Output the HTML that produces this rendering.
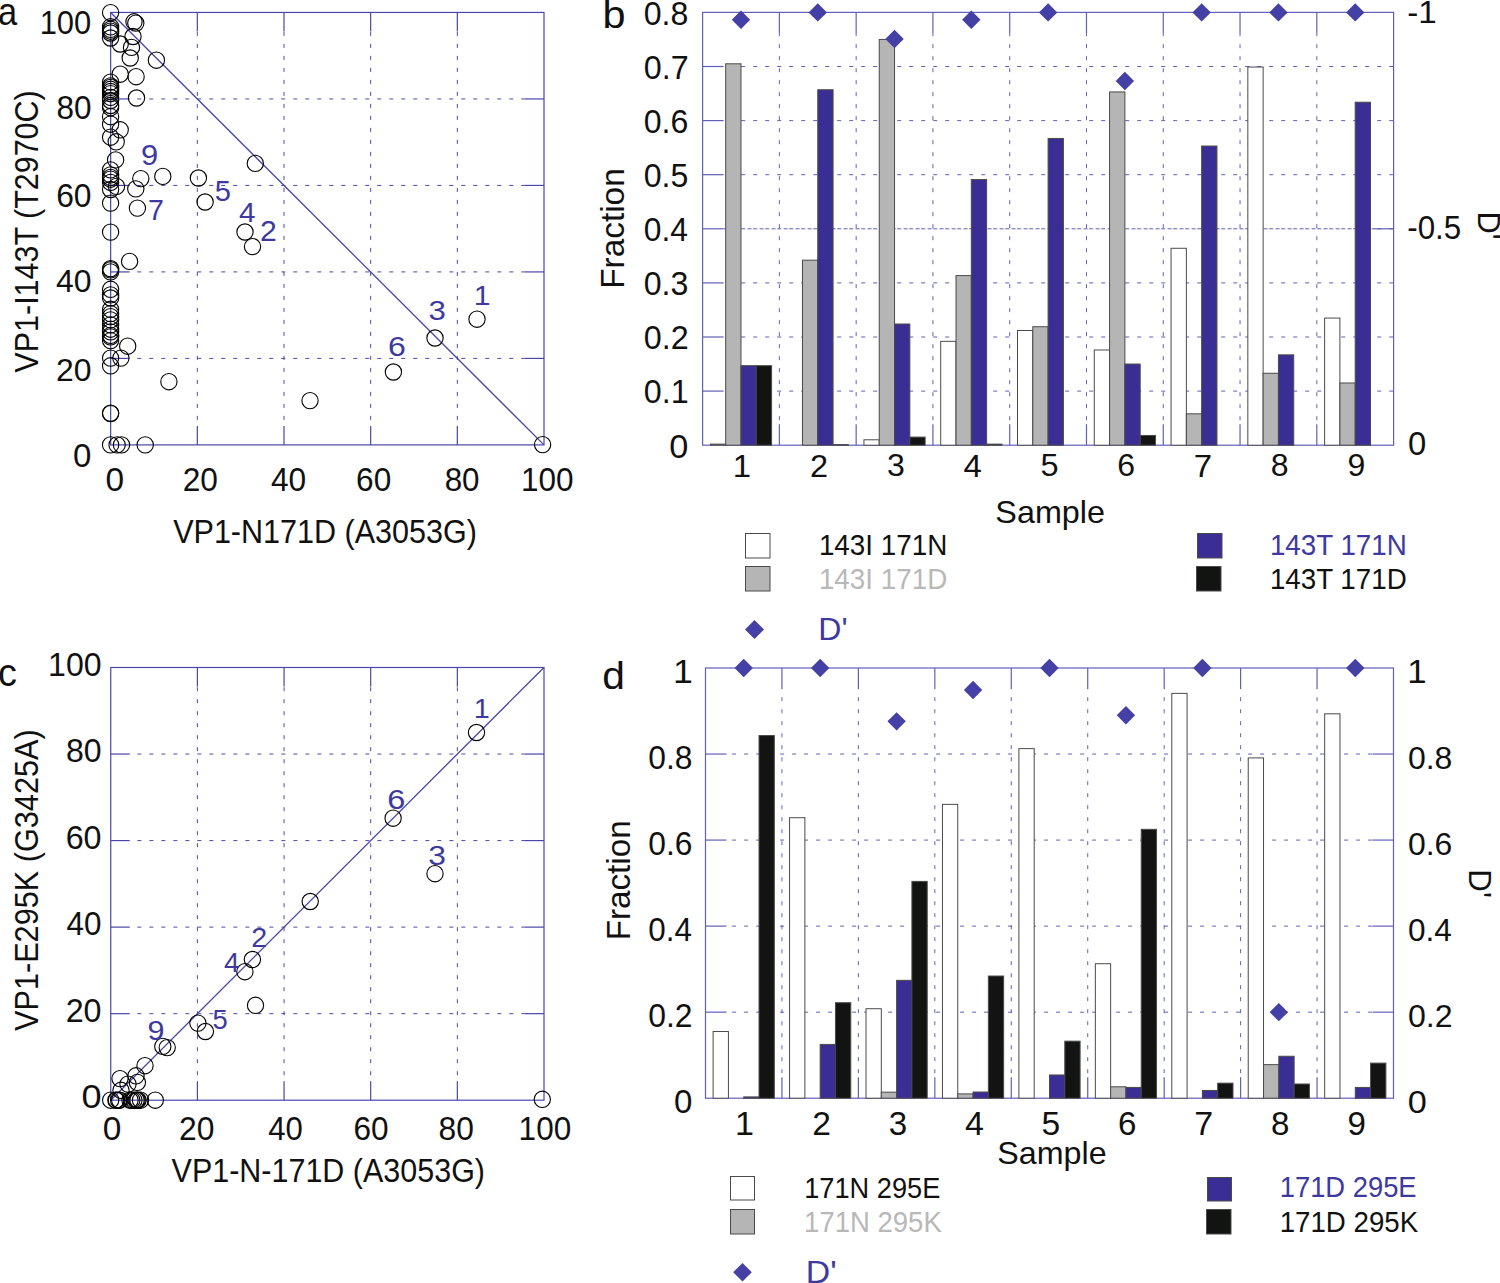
<!DOCTYPE html>
<html><head><meta charset="utf-8"><style>
html,body{margin:0;padding:0;background:#fff;}
svg{display:block;}
text{font-family:"Liberation Sans", sans-serif;}
</style></head><body>
<svg width="1500" height="1283" viewBox="0 0 1500 1283">
<rect width="1500" height="1283" fill="#fff"/>
<line x1="197.32" y1="425.9" x2="197.32" y2="31.45" stroke="#4c48ac" stroke-width="1" stroke-dasharray="4 8" stroke-dashoffset="18"/>
<line x1="197.32" y1="444.9" x2="197.32" y2="425.9" stroke="#4a46aa" stroke-width="1.2"/>
<line x1="197.32" y1="12.45" x2="197.32" y2="31.45" stroke="#4a46aa" stroke-width="1.2"/>
<line x1="129.65" y1="358.41" x2="525" y2="358.41" stroke="#4c48ac" stroke-width="1" stroke-dasharray="4 8" stroke-dashoffset="28.4"/>
<line x1="110.65" y1="358.41" x2="129.65" y2="358.41" stroke="#4a46aa" stroke-width="1.2"/>
<line x1="525" y1="358.41" x2="544" y2="358.41" stroke="#4a46aa" stroke-width="1.2"/>
<line x1="283.99" y1="425.9" x2="283.99" y2="31.45" stroke="#4c48ac" stroke-width="1" stroke-dasharray="4 8" stroke-dashoffset="18"/>
<line x1="283.99" y1="444.9" x2="283.99" y2="425.9" stroke="#4a46aa" stroke-width="1.2"/>
<line x1="283.99" y1="12.45" x2="283.99" y2="31.45" stroke="#4a46aa" stroke-width="1.2"/>
<line x1="129.65" y1="271.92" x2="525" y2="271.92" stroke="#4c48ac" stroke-width="1" stroke-dasharray="4 8" stroke-dashoffset="28.4"/>
<line x1="110.65" y1="271.92" x2="129.65" y2="271.92" stroke="#4a46aa" stroke-width="1.2"/>
<line x1="525" y1="271.92" x2="544" y2="271.92" stroke="#4a46aa" stroke-width="1.2"/>
<line x1="370.66" y1="425.9" x2="370.66" y2="31.45" stroke="#4c48ac" stroke-width="1" stroke-dasharray="4 8" stroke-dashoffset="18"/>
<line x1="370.66" y1="444.9" x2="370.66" y2="425.9" stroke="#4a46aa" stroke-width="1.2"/>
<line x1="370.66" y1="12.45" x2="370.66" y2="31.45" stroke="#4a46aa" stroke-width="1.2"/>
<line x1="129.65" y1="185.43" x2="525" y2="185.43" stroke="#4c48ac" stroke-width="1" stroke-dasharray="4 8" stroke-dashoffset="28.4"/>
<line x1="110.65" y1="185.43" x2="129.65" y2="185.43" stroke="#4a46aa" stroke-width="1.2"/>
<line x1="525" y1="185.43" x2="544" y2="185.43" stroke="#4a46aa" stroke-width="1.2"/>
<line x1="457.33" y1="425.9" x2="457.33" y2="31.45" stroke="#4c48ac" stroke-width="1" stroke-dasharray="4 8" stroke-dashoffset="18"/>
<line x1="457.33" y1="444.9" x2="457.33" y2="425.9" stroke="#4a46aa" stroke-width="1.2"/>
<line x1="457.33" y1="12.45" x2="457.33" y2="31.45" stroke="#4a46aa" stroke-width="1.2"/>
<line x1="129.65" y1="98.94" x2="525" y2="98.94" stroke="#4c48ac" stroke-width="1" stroke-dasharray="4 8" stroke-dashoffset="28.4"/>
<line x1="110.65" y1="98.94" x2="129.65" y2="98.94" stroke="#4a46aa" stroke-width="1.2"/>
<line x1="525" y1="98.94" x2="544" y2="98.94" stroke="#4a46aa" stroke-width="1.2"/>
<rect x="110.65" y="12.45" width="433.35" height="432.45" fill="none" stroke="#4a46aa" stroke-width="1.2"/>
<line x1="110.65" y1="12.45" x2="544" y2="444.9" stroke="#4a46aa" stroke-width="1.3"/>
<circle cx="110.6" cy="12.6" r="8.15" fill="none" stroke="#000" stroke-width="1.1"/>
<circle cx="110.6" cy="26.8" r="8.15" fill="none" stroke="#000" stroke-width="1.1"/>
<circle cx="110.6" cy="29.3" r="8.15" fill="none" stroke="#000" stroke-width="1.1"/>
<circle cx="110.6" cy="31.2" r="8.15" fill="none" stroke="#000" stroke-width="1.1"/>
<circle cx="110.6" cy="33" r="8.15" fill="none" stroke="#000" stroke-width="1.1"/>
<circle cx="110.6" cy="38" r="8.15" fill="none" stroke="#000" stroke-width="1.1"/>
<circle cx="110.6" cy="82.1" r="8.15" fill="none" stroke="#000" stroke-width="1.1"/>
<circle cx="110.6" cy="85.9" r="8.15" fill="none" stroke="#000" stroke-width="1.1"/>
<circle cx="110.6" cy="87.4" r="8.15" fill="none" stroke="#000" stroke-width="1.1"/>
<circle cx="110.6" cy="89.3" r="8.15" fill="none" stroke="#000" stroke-width="1.1"/>
<circle cx="110.6" cy="91.5" r="8.15" fill="none" stroke="#000" stroke-width="1.1"/>
<circle cx="110.6" cy="93.7" r="8.15" fill="none" stroke="#000" stroke-width="1.1"/>
<circle cx="110.6" cy="97.4" r="8.15" fill="none" stroke="#000" stroke-width="1.1"/>
<circle cx="110.6" cy="100.5" r="8.15" fill="none" stroke="#000" stroke-width="1.1"/>
<circle cx="110.6" cy="105.5" r="8.15" fill="none" stroke="#000" stroke-width="1.1"/>
<circle cx="110.6" cy="107.7" r="8.15" fill="none" stroke="#000" stroke-width="1.1"/>
<circle cx="110.6" cy="116.7" r="8.15" fill="none" stroke="#000" stroke-width="1.1"/>
<circle cx="110.6" cy="124.2" r="8.15" fill="none" stroke="#000" stroke-width="1.1"/>
<circle cx="110.6" cy="137.2" r="8.15" fill="none" stroke="#000" stroke-width="1.1"/>
<circle cx="110.6" cy="169.9" r="8.15" fill="none" stroke="#000" stroke-width="1.1"/>
<circle cx="110.6" cy="174.9" r="8.15" fill="none" stroke="#000" stroke-width="1.1"/>
<circle cx="110.6" cy="177.4" r="8.15" fill="none" stroke="#000" stroke-width="1.1"/>
<circle cx="110.6" cy="179.2" r="8.15" fill="none" stroke="#000" stroke-width="1.1"/>
<circle cx="110.6" cy="182.4" r="8.15" fill="none" stroke="#000" stroke-width="1.1"/>
<circle cx="110.6" cy="189.5" r="8.15" fill="none" stroke="#000" stroke-width="1.1"/>
<circle cx="110.6" cy="203.1" r="8.15" fill="none" stroke="#000" stroke-width="1.1"/>
<circle cx="110.6" cy="232.1" r="8.15" fill="none" stroke="#000" stroke-width="1.1"/>
<circle cx="110.6" cy="268.6" r="8.15" fill="none" stroke="#000" stroke-width="1.1"/>
<circle cx="110.6" cy="269.8" r="8.15" fill="none" stroke="#000" stroke-width="1.1"/>
<circle cx="110.6" cy="271.9" r="8.15" fill="none" stroke="#000" stroke-width="1.1"/>
<circle cx="110.6" cy="289.3" r="8.15" fill="none" stroke="#000" stroke-width="1.1"/>
<circle cx="110.6" cy="294.9" r="8.15" fill="none" stroke="#000" stroke-width="1.1"/>
<circle cx="110.6" cy="298" r="8.15" fill="none" stroke="#000" stroke-width="1.1"/>
<circle cx="110.6" cy="309.3" r="8.15" fill="none" stroke="#000" stroke-width="1.1"/>
<circle cx="110.6" cy="313.6" r="8.15" fill="none" stroke="#000" stroke-width="1.1"/>
<circle cx="110.6" cy="316.7" r="8.15" fill="none" stroke="#000" stroke-width="1.1"/>
<circle cx="110.6" cy="319.9" r="8.15" fill="none" stroke="#000" stroke-width="1.1"/>
<circle cx="110.6" cy="324.9" r="8.15" fill="none" stroke="#000" stroke-width="1.1"/>
<circle cx="110.6" cy="329.2" r="8.15" fill="none" stroke="#000" stroke-width="1.1"/>
<circle cx="110.6" cy="331.9" r="8.15" fill="none" stroke="#000" stroke-width="1.1"/>
<circle cx="110.6" cy="335.4" r="8.15" fill="none" stroke="#000" stroke-width="1.1"/>
<circle cx="110.6" cy="336.9" r="8.15" fill="none" stroke="#000" stroke-width="1.1"/>
<circle cx="110.6" cy="340.6" r="8.15" fill="none" stroke="#000" stroke-width="1.1"/>
<circle cx="110.6" cy="358.1" r="8.15" fill="none" stroke="#000" stroke-width="1.1"/>
<circle cx="110.6" cy="365.8" r="8.15" fill="none" stroke="#000" stroke-width="1.1"/>
<circle cx="110.6" cy="413.1" r="8.15" fill="none" stroke="#000" stroke-width="1.1"/>
<circle cx="110.6" cy="413.6" r="8.15" fill="none" stroke="#000" stroke-width="1.1"/>
<circle cx="110.6" cy="444.9" r="8.15" fill="none" stroke="#000" stroke-width="1.1"/>
<circle cx="120.2" cy="44" r="8.15" fill="none" stroke="#000" stroke-width="1.1"/>
<circle cx="134" cy="21.8" r="8.15" fill="none" stroke="#000" stroke-width="1.1"/>
<circle cx="135.8" cy="23.1" r="8.15" fill="none" stroke="#000" stroke-width="1.1"/>
<circle cx="133" cy="36.5" r="8.15" fill="none" stroke="#000" stroke-width="1.1"/>
<circle cx="131.5" cy="47.4" r="8.15" fill="none" stroke="#000" stroke-width="1.1"/>
<circle cx="130.2" cy="58" r="8.15" fill="none" stroke="#000" stroke-width="1.1"/>
<circle cx="156.4" cy="60.2" r="8.15" fill="none" stroke="#000" stroke-width="1.1"/>
<circle cx="120.2" cy="74.2" r="8.15" fill="none" stroke="#000" stroke-width="1.1"/>
<circle cx="136.1" cy="76.7" r="8.15" fill="none" stroke="#000" stroke-width="1.1"/>
<circle cx="136.5" cy="98" r="8.15" fill="none" stroke="#000" stroke-width="1.1"/>
<circle cx="120.2" cy="129.8" r="8.15" fill="none" stroke="#000" stroke-width="1.1"/>
<circle cx="116.2" cy="141.8" r="8.15" fill="none" stroke="#000" stroke-width="1.1"/>
<circle cx="115.6" cy="159.9" r="8.15" fill="none" stroke="#000" stroke-width="1.1"/>
<circle cx="116.5" cy="186.4" r="8.15" fill="none" stroke="#000" stroke-width="1.1"/>
<circle cx="140.8" cy="178.6" r="8.15" fill="none" stroke="#000" stroke-width="1.1"/>
<circle cx="135.8" cy="188.9" r="8.15" fill="none" stroke="#000" stroke-width="1.1"/>
<circle cx="162.8" cy="176.4" r="8.15" fill="none" stroke="#000" stroke-width="1.1"/>
<circle cx="137.4" cy="208.1" r="8.15" fill="none" stroke="#000" stroke-width="1.1"/>
<circle cx="198.4" cy="178" r="8.15" fill="none" stroke="#000" stroke-width="1.1"/>
<circle cx="205.1" cy="202" r="8.15" fill="none" stroke="#000" stroke-width="1.1"/>
<circle cx="255.3" cy="163.4" r="8.15" fill="none" stroke="#000" stroke-width="1.1"/>
<circle cx="245" cy="232" r="8.15" fill="none" stroke="#000" stroke-width="1.1"/>
<circle cx="252.5" cy="246.6" r="8.15" fill="none" stroke="#000" stroke-width="1.1"/>
<circle cx="129.6" cy="261.4" r="8.15" fill="none" stroke="#000" stroke-width="1.1"/>
<circle cx="127.7" cy="346.2" r="8.15" fill="none" stroke="#000" stroke-width="1.1"/>
<circle cx="120.9" cy="358.1" r="8.15" fill="none" stroke="#000" stroke-width="1.1"/>
<circle cx="168.9" cy="381.7" r="8.15" fill="none" stroke="#000" stroke-width="1.1"/>
<circle cx="117.1" cy="444.9" r="8.15" fill="none" stroke="#000" stroke-width="1.1"/>
<circle cx="121.5" cy="444.9" r="8.15" fill="none" stroke="#000" stroke-width="1.1"/>
<circle cx="145.2" cy="444.9" r="8.15" fill="none" stroke="#000" stroke-width="1.1"/>
<circle cx="310" cy="400.6" r="8.15" fill="none" stroke="#000" stroke-width="1.1"/>
<circle cx="393.4" cy="372" r="8.15" fill="none" stroke="#000" stroke-width="1.1"/>
<circle cx="435" cy="338" r="8.15" fill="none" stroke="#000" stroke-width="1.1"/>
<circle cx="477" cy="319.2" r="8.15" fill="none" stroke="#000" stroke-width="1.1"/>
<circle cx="542.6" cy="444.6" r="8.15" fill="none" stroke="#000" stroke-width="1.1"/>
<text transform="translate(141.05 165.02) scale(1.0797 1)" font-size="28.67" fill="#3d399f">9</text>
<text transform="translate(147.93 219.8) scale(0.9837 1)" font-size="29.07" fill="#3d399f">7</text>
<text transform="translate(214.83 201.41) scale(0.9811 1)" font-size="29.67" fill="#3d399f">5</text>
<text transform="translate(239.12 222.3) scale(1.0879 1)" font-size="27.18" fill="#3d399f">4</text>
<text transform="translate(260.09 241) scale(1.0499 1)" font-size="28.64" fill="#3d399f">2</text>
<text transform="translate(387.97 356.13) scale(1.1706 1)" font-size="27.4" fill="#3d399f">6</text>
<text transform="translate(428.41 320.12) scale(1.1050 1)" font-size="28.25" fill="#3d399f">3</text>
<text transform="translate(473.7 305) scale(1.0693 1)" font-size="28.2" fill="#3d399f">1</text>
<text transform="translate(39.65 33.88) scale(0.9431 1)" font-size="32.77" fill="#111111">100</text>
<text transform="translate(56.43 119.38) scale(0.9602 1)" font-size="32.77" fill="#111111">80</text>
<text transform="translate(56.19 207.48) scale(0.9742 1)" font-size="32.63" fill="#111111">60</text>
<text transform="translate(56.07 292.49) scale(0.9905 1)" font-size="32.2" fill="#111111">40</text>
<text transform="translate(56 380.89) scale(0.9896 1)" font-size="32.2" fill="#111111">20</text>
<text transform="translate(73.11 466.88) scale(1.0219 1)" font-size="32.34" fill="#111111">0</text>
<text transform="translate(105.39 490.98) scale(1.0171 1)" font-size="32.91" fill="#111111">0</text>
<text transform="translate(182.71 490.98) scale(0.9624 1)" font-size="32.91" fill="#111111">20</text>
<text transform="translate(270.97 490.98) scale(0.9634 1)" font-size="32.91" fill="#111111">40</text>
<text transform="translate(356.1 490.98) scale(0.9599 1)" font-size="32.91" fill="#111111">60</text>
<text transform="translate(444.64 490.98) scale(0.9531 1)" font-size="32.91" fill="#111111">80</text>
<text transform="translate(520.9 490.98) scale(0.9586 1)" font-size="32.91" fill="#111111">100</text>
<text transform="translate(173.17 543.3) scale(0.9014 1)" font-size="33.87" fill="#111111">VP1-N171D (A3053G)</text>
<text transform="translate(37.7 372.63) rotate(-90) scale(0.9262 1)" font-size="32.92" fill="#111111">VP1-I143T (T2970C)</text>
<text transform="translate(-2.06 24.53) scale(0.9076 1)" font-size="37.97" fill="#111111">a</text>
<line x1="197.4" y1="1081.2" x2="197.4" y2="686.5" stroke="#4c48ac" stroke-width="1" stroke-dasharray="4 8" stroke-dashoffset="18"/>
<line x1="197.4" y1="1100.2" x2="197.4" y2="1081.2" stroke="#4a46aa" stroke-width="1.2"/>
<line x1="197.4" y1="667.5" x2="197.4" y2="686.5" stroke="#4a46aa" stroke-width="1.2"/>
<line x1="129.75" y1="1013.66" x2="525" y2="1013.66" stroke="#4c48ac" stroke-width="1" stroke-dasharray="4 8" stroke-dashoffset="28.4"/>
<line x1="110.75" y1="1013.66" x2="129.75" y2="1013.66" stroke="#4a46aa" stroke-width="1.2"/>
<line x1="525" y1="1013.66" x2="544" y2="1013.66" stroke="#4a46aa" stroke-width="1.2"/>
<line x1="284.05" y1="1081.2" x2="284.05" y2="686.5" stroke="#4c48ac" stroke-width="1" stroke-dasharray="4 8" stroke-dashoffset="18"/>
<line x1="284.05" y1="1100.2" x2="284.05" y2="1081.2" stroke="#4a46aa" stroke-width="1.2"/>
<line x1="284.05" y1="667.5" x2="284.05" y2="686.5" stroke="#4a46aa" stroke-width="1.2"/>
<line x1="129.75" y1="927.12" x2="525" y2="927.12" stroke="#4c48ac" stroke-width="1" stroke-dasharray="4 8" stroke-dashoffset="28.4"/>
<line x1="110.75" y1="927.12" x2="129.75" y2="927.12" stroke="#4a46aa" stroke-width="1.2"/>
<line x1="525" y1="927.12" x2="544" y2="927.12" stroke="#4a46aa" stroke-width="1.2"/>
<line x1="370.7" y1="1081.2" x2="370.7" y2="686.5" stroke="#4c48ac" stroke-width="1" stroke-dasharray="4 8" stroke-dashoffset="18"/>
<line x1="370.7" y1="1100.2" x2="370.7" y2="1081.2" stroke="#4a46aa" stroke-width="1.2"/>
<line x1="370.7" y1="667.5" x2="370.7" y2="686.5" stroke="#4a46aa" stroke-width="1.2"/>
<line x1="129.75" y1="840.58" x2="525" y2="840.58" stroke="#4c48ac" stroke-width="1" stroke-dasharray="4 8" stroke-dashoffset="28.4"/>
<line x1="110.75" y1="840.58" x2="129.75" y2="840.58" stroke="#4a46aa" stroke-width="1.2"/>
<line x1="525" y1="840.58" x2="544" y2="840.58" stroke="#4a46aa" stroke-width="1.2"/>
<line x1="457.35" y1="1081.2" x2="457.35" y2="686.5" stroke="#4c48ac" stroke-width="1" stroke-dasharray="4 8" stroke-dashoffset="18"/>
<line x1="457.35" y1="1100.2" x2="457.35" y2="1081.2" stroke="#4a46aa" stroke-width="1.2"/>
<line x1="457.35" y1="667.5" x2="457.35" y2="686.5" stroke="#4a46aa" stroke-width="1.2"/>
<line x1="129.75" y1="754.04" x2="525" y2="754.04" stroke="#4c48ac" stroke-width="1" stroke-dasharray="4 8" stroke-dashoffset="28.4"/>
<line x1="110.75" y1="754.04" x2="129.75" y2="754.04" stroke="#4a46aa" stroke-width="1.2"/>
<line x1="525" y1="754.04" x2="544" y2="754.04" stroke="#4a46aa" stroke-width="1.2"/>
<rect x="110.75" y="667.5" width="433.25" height="432.7" fill="none" stroke="#4a46aa" stroke-width="1.2"/>
<line x1="110.75" y1="1100.2" x2="544" y2="667.5" stroke="#4a46aa" stroke-width="1.3"/>
<circle cx="310.2" cy="901.5" r="8.15" fill="none" stroke="#000" stroke-width="1.1"/>
<circle cx="252.4" cy="959.5" r="8.15" fill="none" stroke="#000" stroke-width="1.1"/>
<circle cx="244.9" cy="971.7" r="8.15" fill="none" stroke="#000" stroke-width="1.1"/>
<circle cx="255.5" cy="1005.3" r="8.15" fill="none" stroke="#000" stroke-width="1.1"/>
<circle cx="197.9" cy="1023.1" r="8.15" fill="none" stroke="#000" stroke-width="1.1"/>
<circle cx="205.4" cy="1031.5" r="8.15" fill="none" stroke="#000" stroke-width="1.1"/>
<circle cx="162.8" cy="1046.4" r="8.15" fill="none" stroke="#000" stroke-width="1.1"/>
<circle cx="167.2" cy="1047.6" r="8.15" fill="none" stroke="#000" stroke-width="1.1"/>
<circle cx="145" cy="1065.7" r="8.15" fill="none" stroke="#000" stroke-width="1.1"/>
<circle cx="136" cy="1075.8" r="8.15" fill="none" stroke="#000" stroke-width="1.1"/>
<circle cx="120" cy="1078.6" r="8.15" fill="none" stroke="#000" stroke-width="1.1"/>
<circle cx="128" cy="1084.1" r="8.15" fill="none" stroke="#000" stroke-width="1.1"/>
<circle cx="137.4" cy="1082.4" r="8.15" fill="none" stroke="#000" stroke-width="1.1"/>
<circle cx="121" cy="1090.3" r="8.15" fill="none" stroke="#000" stroke-width="1.1"/>
<circle cx="393.1" cy="818.2" r="8.15" fill="none" stroke="#000" stroke-width="1.1"/>
<circle cx="435" cy="873.7" r="8.15" fill="none" stroke="#000" stroke-width="1.1"/>
<circle cx="476.5" cy="732.5" r="8.15" fill="none" stroke="#000" stroke-width="1.1"/>
<circle cx="542.3" cy="1099.3" r="8.15" fill="none" stroke="#000" stroke-width="1.1"/>
<circle cx="110.7" cy="1100.2" r="8.15" fill="none" stroke="#000" stroke-width="1.1"/>
<circle cx="115.9" cy="1100.2" r="8.15" fill="none" stroke="#000" stroke-width="1.1"/>
<circle cx="116.4" cy="1100.2" r="8.15" fill="none" stroke="#000" stroke-width="1.1"/>
<circle cx="118.6" cy="1100.2" r="8.15" fill="none" stroke="#000" stroke-width="1.1"/>
<circle cx="119.7" cy="1100.2" r="8.15" fill="none" stroke="#000" stroke-width="1.1"/>
<circle cx="130" cy="1100.2" r="8.15" fill="none" stroke="#000" stroke-width="1.1"/>
<circle cx="131.8" cy="1100.2" r="8.15" fill="none" stroke="#000" stroke-width="1.1"/>
<circle cx="133.9" cy="1100.2" r="8.15" fill="none" stroke="#000" stroke-width="1.1"/>
<circle cx="136.1" cy="1100.2" r="8.15" fill="none" stroke="#000" stroke-width="1.1"/>
<circle cx="137.1" cy="1100.2" r="8.15" fill="none" stroke="#000" stroke-width="1.1"/>
<circle cx="138" cy="1100.2" r="8.15" fill="none" stroke="#000" stroke-width="1.1"/>
<circle cx="140.5" cy="1100.2" r="8.15" fill="none" stroke="#000" stroke-width="1.1"/>
<circle cx="155.3" cy="1100.2" r="8.15" fill="none" stroke="#000" stroke-width="1.1"/>
<text transform="translate(473.79 718.4) scale(1.0840 1)" font-size="26.74" fill="#3d399f">1</text>
<text transform="translate(387.35 809.34) scale(1.1987 1)" font-size="27.12" fill="#3d399f">6</text>
<text transform="translate(428.29 864.74) scale(1.1868 1)" font-size="26.84" fill="#3d399f">3</text>
<text transform="translate(251.25 947.3) scale(1.0244 1)" font-size="28.07" fill="#3d399f">2</text>
<text transform="translate(224.06 971.7) scale(1.0222 1)" font-size="27.18" fill="#3d399f">4</text>
<text transform="translate(212.4 1029.33) scale(0.9761 1)" font-size="28.09" fill="#3d399f">5</text>
<text transform="translate(147.47 1039.73) scale(1.0971 1)" font-size="27.82" fill="#3d399f">9</text>
<text transform="translate(48.06 675.68) scale(0.9743 1)" font-size="32.91" fill="#111111">100</text>
<text transform="translate(65.91 762.22) scale(0.9738 1)" font-size="32.91" fill="#111111">80</text>
<text transform="translate(65.66 848.76) scale(0.9807 1)" font-size="32.91" fill="#111111">60</text>
<text transform="translate(66.58 935.3) scale(0.9547 1)" font-size="32.91" fill="#111111">40</text>
<text transform="translate(65.68 1021.84) scale(0.9803 1)" font-size="32.91" fill="#111111">20</text>
<text transform="translate(81.59 1108.38) scale(1.0997 1)" font-size="32.91" fill="#111111">0</text>
<text transform="translate(102.69 1139.98) scale(1.0171 1)" font-size="32.91" fill="#111111">0</text>
<text transform="translate(179.1 1139.98) scale(0.9684 1)" font-size="32.91" fill="#111111">20</text>
<text transform="translate(268.29 1139.98) scale(0.9461 1)" font-size="32.91" fill="#111111">40</text>
<text transform="translate(353.4 1139.98) scale(0.9599 1)" font-size="32.91" fill="#111111">60</text>
<text transform="translate(438.62 1139.98) scale(0.9649 1)" font-size="32.91" fill="#111111">80</text>
<text transform="translate(518.6 1139.98) scale(0.9586 1)" font-size="32.91" fill="#111111">100</text>
<text transform="translate(171.57 1182.3) scale(0.9410 1)" font-size="32.41" fill="#111111">VP1-N-171D (A3053G)</text>
<text transform="translate(37.7 1031.03) rotate(-90) scale(0.9298 1)" font-size="32.99" fill="#111111">VP1-E295K (G3425A)</text>
<text transform="translate(-2.01 686.12) scale(0.9678 1)" font-size="39.06" fill="#111111">c</text>
<line x1="779.38" y1="424.2" x2="779.38" y2="33.4" stroke="#5a56b4" stroke-width="0.95" stroke-dasharray="4 8" stroke-dashoffset="20"/>
<line x1="779.38" y1="445.2" x2="779.38" y2="424.2" stroke="#625fb8" stroke-width="1.2"/>
<line x1="779.38" y1="12.4" x2="779.38" y2="33.4" stroke="#625fb8" stroke-width="1.2"/>
<line x1="856.16" y1="424.2" x2="856.16" y2="33.4" stroke="#5a56b4" stroke-width="0.95" stroke-dasharray="4 8" stroke-dashoffset="20"/>
<line x1="856.16" y1="445.2" x2="856.16" y2="424.2" stroke="#625fb8" stroke-width="1.2"/>
<line x1="856.16" y1="12.4" x2="856.16" y2="33.4" stroke="#625fb8" stroke-width="1.2"/>
<line x1="932.93" y1="424.2" x2="932.93" y2="33.4" stroke="#5a56b4" stroke-width="0.95" stroke-dasharray="4 8" stroke-dashoffset="20"/>
<line x1="932.93" y1="445.2" x2="932.93" y2="424.2" stroke="#625fb8" stroke-width="1.2"/>
<line x1="932.93" y1="12.4" x2="932.93" y2="33.4" stroke="#625fb8" stroke-width="1.2"/>
<line x1="1009.71" y1="424.2" x2="1009.71" y2="33.4" stroke="#5a56b4" stroke-width="0.95" stroke-dasharray="4 8" stroke-dashoffset="20"/>
<line x1="1009.71" y1="445.2" x2="1009.71" y2="424.2" stroke="#625fb8" stroke-width="1.2"/>
<line x1="1009.71" y1="12.4" x2="1009.71" y2="33.4" stroke="#625fb8" stroke-width="1.2"/>
<line x1="1086.49" y1="424.2" x2="1086.49" y2="33.4" stroke="#5a56b4" stroke-width="0.95" stroke-dasharray="4 8" stroke-dashoffset="20"/>
<line x1="1086.49" y1="445.2" x2="1086.49" y2="424.2" stroke="#625fb8" stroke-width="1.2"/>
<line x1="1086.49" y1="12.4" x2="1086.49" y2="33.4" stroke="#625fb8" stroke-width="1.2"/>
<line x1="1163.27" y1="424.2" x2="1163.27" y2="33.4" stroke="#5a56b4" stroke-width="0.95" stroke-dasharray="4 8" stroke-dashoffset="20"/>
<line x1="1163.27" y1="445.2" x2="1163.27" y2="424.2" stroke="#625fb8" stroke-width="1.2"/>
<line x1="1163.27" y1="12.4" x2="1163.27" y2="33.4" stroke="#625fb8" stroke-width="1.2"/>
<line x1="1240.04" y1="424.2" x2="1240.04" y2="33.4" stroke="#5a56b4" stroke-width="0.95" stroke-dasharray="4 8" stroke-dashoffset="20"/>
<line x1="1240.04" y1="445.2" x2="1240.04" y2="424.2" stroke="#625fb8" stroke-width="1.2"/>
<line x1="1240.04" y1="12.4" x2="1240.04" y2="33.4" stroke="#625fb8" stroke-width="1.2"/>
<line x1="1316.82" y1="424.2" x2="1316.82" y2="33.4" stroke="#5a56b4" stroke-width="0.95" stroke-dasharray="4 8" stroke-dashoffset="20"/>
<line x1="1316.82" y1="445.2" x2="1316.82" y2="424.2" stroke="#625fb8" stroke-width="1.2"/>
<line x1="1316.82" y1="12.4" x2="1316.82" y2="33.4" stroke="#625fb8" stroke-width="1.2"/>
<line x1="723.6" y1="391.1" x2="1393.6" y2="391.1" stroke="#5a56b4" stroke-width="0.95" stroke-dasharray="4 8" stroke-dashoffset="30.4"/>
<line x1="702.6" y1="391.1" x2="723.6" y2="391.1" stroke="#625fb8" stroke-width="1.2"/>
<line x1="723.6" y1="337" x2="1393.6" y2="337" stroke="#5a56b4" stroke-width="0.95" stroke-dasharray="4 8" stroke-dashoffset="30.4"/>
<line x1="702.6" y1="337" x2="723.6" y2="337" stroke="#625fb8" stroke-width="1.2"/>
<line x1="723.6" y1="282.9" x2="1393.6" y2="282.9" stroke="#5a56b4" stroke-width="0.95" stroke-dasharray="4 8" stroke-dashoffset="30.4"/>
<line x1="702.6" y1="282.9" x2="723.6" y2="282.9" stroke="#625fb8" stroke-width="1.2"/>
<line x1="723.6" y1="228.8" x2="1393.6" y2="228.8" stroke="#5a56b4" stroke-width="0.95" stroke-dasharray="4 8" stroke-dashoffset="30.4"/>
<line x1="702.6" y1="228.8" x2="723.6" y2="228.8" stroke="#625fb8" stroke-width="1.2"/>
<line x1="723.6" y1="174.7" x2="1393.6" y2="174.7" stroke="#5a56b4" stroke-width="0.95" stroke-dasharray="4 8" stroke-dashoffset="30.4"/>
<line x1="702.6" y1="174.7" x2="723.6" y2="174.7" stroke="#625fb8" stroke-width="1.2"/>
<line x1="723.6" y1="120.6" x2="1393.6" y2="120.6" stroke="#5a56b4" stroke-width="0.95" stroke-dasharray="4 8" stroke-dashoffset="30.4"/>
<line x1="702.6" y1="120.6" x2="723.6" y2="120.6" stroke="#625fb8" stroke-width="1.2"/>
<line x1="723.6" y1="66.5" x2="1393.6" y2="66.5" stroke="#5a56b4" stroke-width="0.95" stroke-dasharray="4 8" stroke-dashoffset="30.4"/>
<line x1="702.6" y1="66.5" x2="723.6" y2="66.5" stroke="#625fb8" stroke-width="1.2"/>
<line x1="723.6" y1="228.8" x2="1372.6" y2="228.8" stroke="#5a56b4" stroke-width="0.95" stroke-dasharray="4 8" stroke-dashoffset="24"/>
<line x1="1372.6" y1="228.8" x2="1393.6" y2="228.8" stroke="#625fb8" stroke-width="1.2"/>
<rect x="702.6" y="12.4" width="691" height="432.8" fill="none" stroke="#625fb8" stroke-width="1.2"/>
<rect x="710.39" y="444.12" width="15.3" height="1.08" fill="#ffffff" stroke="#4a4a4a" stroke-width="1"/>
<rect x="725.69" y="63.8" width="15.3" height="381.4" fill="#b5b5b5" stroke="#4a4a4a" stroke-width="1"/>
<rect x="740.99" y="365.67" width="15.3" height="79.53" fill="#3a2e95" stroke="#4a4a4a" stroke-width="1"/>
<rect x="756.29" y="365.67" width="15.3" height="79.53" fill="#121412" stroke="#4a4a4a" stroke-width="1"/>
<rect x="802.47" y="260.18" width="15.3" height="185.02" fill="#b5b5b5" stroke="#4a4a4a" stroke-width="1"/>
<rect x="817.77" y="89.76" width="15.3" height="355.44" fill="#3a2e95" stroke="#4a4a4a" stroke-width="1"/>
<rect x="833.07" y="444.66" width="15.3" height="0.54" fill="#121412" stroke="#4a4a4a" stroke-width="1"/>
<rect x="863.94" y="439.79" width="15.3" height="5.41" fill="#ffffff" stroke="#4a4a4a" stroke-width="1"/>
<rect x="879.24" y="39.45" width="15.3" height="405.75" fill="#b5b5b5" stroke="#4a4a4a" stroke-width="1"/>
<rect x="894.54" y="324.02" width="15.3" height="121.18" fill="#3a2e95" stroke="#4a4a4a" stroke-width="1"/>
<rect x="909.84" y="437.08" width="15.3" height="8.12" fill="#121412" stroke="#4a4a4a" stroke-width="1"/>
<rect x="940.72" y="341.33" width="15.3" height="103.87" fill="#ffffff" stroke="#4a4a4a" stroke-width="1"/>
<rect x="956.02" y="275.6" width="15.3" height="169.6" fill="#b5b5b5" stroke="#4a4a4a" stroke-width="1"/>
<rect x="971.32" y="179.57" width="15.3" height="265.63" fill="#3a2e95" stroke="#4a4a4a" stroke-width="1"/>
<rect x="986.62" y="444.12" width="15.3" height="1.08" fill="#121412" stroke="#4a4a4a" stroke-width="1"/>
<rect x="1017.5" y="330.51" width="15.3" height="114.69" fill="#ffffff" stroke="#4a4a4a" stroke-width="1"/>
<rect x="1032.8" y="326.72" width="15.3" height="118.48" fill="#b5b5b5" stroke="#4a4a4a" stroke-width="1"/>
<rect x="1048.1" y="138.45" width="15.3" height="306.75" fill="#3a2e95" stroke="#4a4a4a" stroke-width="1"/>
<rect x="1094.28" y="349.98" width="15.3" height="95.22" fill="#ffffff" stroke="#4a4a4a" stroke-width="1"/>
<rect x="1109.58" y="91.93" width="15.3" height="353.27" fill="#b5b5b5" stroke="#4a4a4a" stroke-width="1"/>
<rect x="1124.88" y="364.05" width="15.3" height="81.15" fill="#3a2e95" stroke="#4a4a4a" stroke-width="1"/>
<rect x="1140.18" y="435.46" width="15.3" height="9.74" fill="#121412" stroke="#4a4a4a" stroke-width="1"/>
<rect x="1171.06" y="248.28" width="15.3" height="196.92" fill="#ffffff" stroke="#4a4a4a" stroke-width="1"/>
<rect x="1186.36" y="413.82" width="15.3" height="31.38" fill="#b5b5b5" stroke="#4a4a4a" stroke-width="1"/>
<rect x="1201.66" y="146.03" width="15.3" height="299.17" fill="#3a2e95" stroke="#4a4a4a" stroke-width="1"/>
<rect x="1247.83" y="67.04" width="15.3" height="378.16" fill="#ffffff" stroke="#4a4a4a" stroke-width="1"/>
<rect x="1263.13" y="373.25" width="15.3" height="71.95" fill="#b5b5b5" stroke="#4a4a4a" stroke-width="1"/>
<rect x="1278.43" y="354.85" width="15.3" height="90.35" fill="#3a2e95" stroke="#4a4a4a" stroke-width="1"/>
<rect x="1324.61" y="318.06" width="15.3" height="127.13" fill="#ffffff" stroke="#4a4a4a" stroke-width="1"/>
<rect x="1339.91" y="382.99" width="15.3" height="62.21" fill="#b5b5b5" stroke="#4a4a4a" stroke-width="1"/>
<rect x="1355.21" y="102.21" width="15.3" height="342.99" fill="#3a2e95" stroke="#4a4a4a" stroke-width="1"/>
<path d="M731.79 19.8L740.99 10.6L750.19 19.8L740.99 29Z" fill="#4440a6"/>
<path d="M808.57 12.4L817.77 3.2L826.97 12.4L817.77 21.6Z" fill="#4440a6"/>
<path d="M885.34 39L894.54 29.8L903.74 39L894.54 48.2Z" fill="#4440a6"/>
<path d="M962.12 19.7L971.32 10.5L980.52 19.7L971.32 28.9Z" fill="#4440a6"/>
<path d="M1038.9 12.4L1048.1 3.2L1057.3 12.4L1048.1 21.6Z" fill="#4440a6"/>
<path d="M1115.68 81L1124.88 71.8L1134.08 81L1124.88 90.2Z" fill="#4440a6"/>
<path d="M1192.46 12.4L1201.66 3.2L1210.86 12.4L1201.66 21.6Z" fill="#4440a6"/>
<path d="M1269.23 12.4L1278.43 3.2L1287.63 12.4L1278.43 21.6Z" fill="#4440a6"/>
<path d="M1346.01 12.4L1355.21 3.2L1364.41 12.4L1355.21 21.6Z" fill="#4440a6"/>
<text transform="translate(669.26 457.58) scale(1.0380 1)" font-size="33.05" fill="#111111">0</text>
<text transform="translate(643.74 403.48) scale(0.9758 1)" font-size="33.05" fill="#111111">0.1</text>
<text transform="translate(643.74 349.38) scale(0.9769 1)" font-size="33.05" fill="#111111">0.2</text>
<text transform="translate(643.74 295.28) scale(0.9722 1)" font-size="33.05" fill="#111111">0.3</text>
<text transform="translate(643.76 241.18) scale(0.9614 1)" font-size="33.05" fill="#111111">0.4</text>
<text transform="translate(643.75 187.08) scale(0.9707 1)" font-size="33.05" fill="#111111">0.5</text>
<text transform="translate(643.74 132.98) scale(0.9722 1)" font-size="33.05" fill="#111111">0.6</text>
<text transform="translate(643.74 78.88) scale(0.9769 1)" font-size="33.05" fill="#111111">0.7</text>
<text transform="translate(643.75 24.78) scale(0.9718 1)" font-size="33.05" fill="#111111">0.8</text>
<text transform="translate(1407.13 22.6) scale(1.0373 1)" font-size="31.98" fill="#111111">-1</text>
<text transform="translate(1407.21 238.98) scale(0.9648 1)" font-size="32.49" fill="#111111">-0.5</text>
<text transform="translate(1408.02 455.38) scale(1.0023 1)" font-size="32.77" fill="#111111">0</text>
<text transform="translate(732.67 476.8) scale(1.0216 1)" font-size="32.27" fill="#111111">1</text>
<text transform="translate(810.03 476.8) scale(1.0216 1)" font-size="31.79" fill="#111111">2</text>
<text transform="translate(887.03 476.49) scale(1.0216 1)" font-size="31.36" fill="#111111">3</text>
<text transform="translate(963.56 476.8) scale(1.0216 1)" font-size="32.27" fill="#111111">4</text>
<text transform="translate(1040.39 476.49) scale(1.0216 1)" font-size="31.82" fill="#111111">5</text>
<text transform="translate(1117.16 476.49) scale(1.0216 1)" font-size="31.36" fill="#111111">6</text>
<text transform="translate(1193.77 476.8) scale(1.0216 1)" font-size="32.27" fill="#111111">7</text>
<text transform="translate(1270.83 476.49) scale(1.0216 1)" font-size="31.36" fill="#111111">8</text>
<text transform="translate(1347.61 476.49) scale(1.0216 1)" font-size="31.36" fill="#111111">9</text>
<text transform="translate(995.33 522.8) scale(1.0027 1)" font-size="32.27" fill="#111111">Sample</text>
<text transform="translate(623.9 288.74) rotate(-90) scale(1.0022 1)" font-size="33.28" fill="#111111">Fraction</text>
<text transform="translate(1477.6 211.48) rotate(90) scale(0.9569 1)" font-size="32.12" fill="#111111">D'</text>
<text transform="translate(602.53 28.02) scale(1.0695 1)" font-size="38.67" fill="#111111">b</text>
<rect x="745.5" y="533.5" width="24.5" height="24.5" fill="#ffffff" stroke="#4a4a4a" stroke-width="1"/>
<rect x="745.5" y="566.5" width="24.5" height="24.5" fill="#b5b5b5" stroke="#4a4a4a" stroke-width="1"/>
<rect x="1197.5" y="533.5" width="24.5" height="24.5" fill="#3a2e95" stroke="#4a4a4a" stroke-width="1"/>
<rect x="1196.5" y="566.5" width="24.5" height="24.5" fill="#121412" stroke="#4a4a4a" stroke-width="1"/>
<text transform="translate(818.88 555.32) scale(0.9562 1)" font-size="29.1" fill="#111111">143I 171N</text>
<text transform="translate(818.88 588.71) scale(0.9385 1)" font-size="29.66" fill="#b8b8b8">143I 171D</text>
<text transform="translate(1269.89 555.32) scale(0.9543 1)" font-size="29.1" fill="#3d399f">143T 171N</text>
<text transform="translate(1269.88 588.71) scale(0.9366 1)" font-size="29.66" fill="#111111">143T 171D</text>
<path d="M745 629.5L754.5 620L764 629.5L754.5 639Z" fill="#4440a6"/>
<text transform="translate(818.37 640) scale(1.0152 1)" font-size="31.54" fill="#3d399f">D'</text>
<line x1="781.94" y1="1077.2" x2="781.94" y2="689" stroke="#5a56b4" stroke-width="0.95" stroke-dasharray="4 8" stroke-dashoffset="20"/>
<line x1="781.94" y1="1098.2" x2="781.94" y2="1077.2" stroke="#625fb8" stroke-width="1.2"/>
<line x1="781.94" y1="668" x2="781.94" y2="689" stroke="#625fb8" stroke-width="1.2"/>
<line x1="858.39" y1="1077.2" x2="858.39" y2="689" stroke="#5a56b4" stroke-width="0.95" stroke-dasharray="4 8" stroke-dashoffset="20"/>
<line x1="858.39" y1="1098.2" x2="858.39" y2="1077.2" stroke="#625fb8" stroke-width="1.2"/>
<line x1="858.39" y1="668" x2="858.39" y2="689" stroke="#625fb8" stroke-width="1.2"/>
<line x1="934.83" y1="1077.2" x2="934.83" y2="689" stroke="#5a56b4" stroke-width="0.95" stroke-dasharray="4 8" stroke-dashoffset="20"/>
<line x1="934.83" y1="1098.2" x2="934.83" y2="1077.2" stroke="#625fb8" stroke-width="1.2"/>
<line x1="934.83" y1="668" x2="934.83" y2="689" stroke="#625fb8" stroke-width="1.2"/>
<line x1="1011.28" y1="1077.2" x2="1011.28" y2="689" stroke="#5a56b4" stroke-width="0.95" stroke-dasharray="4 8" stroke-dashoffset="20"/>
<line x1="1011.28" y1="1098.2" x2="1011.28" y2="1077.2" stroke="#625fb8" stroke-width="1.2"/>
<line x1="1011.28" y1="668" x2="1011.28" y2="689" stroke="#625fb8" stroke-width="1.2"/>
<line x1="1087.72" y1="1077.2" x2="1087.72" y2="689" stroke="#5a56b4" stroke-width="0.95" stroke-dasharray="4 8" stroke-dashoffset="20"/>
<line x1="1087.72" y1="1098.2" x2="1087.72" y2="1077.2" stroke="#625fb8" stroke-width="1.2"/>
<line x1="1087.72" y1="668" x2="1087.72" y2="689" stroke="#625fb8" stroke-width="1.2"/>
<line x1="1164.17" y1="1077.2" x2="1164.17" y2="689" stroke="#5a56b4" stroke-width="0.95" stroke-dasharray="4 8" stroke-dashoffset="20"/>
<line x1="1164.17" y1="1098.2" x2="1164.17" y2="1077.2" stroke="#625fb8" stroke-width="1.2"/>
<line x1="1164.17" y1="668" x2="1164.17" y2="689" stroke="#625fb8" stroke-width="1.2"/>
<line x1="1240.61" y1="1077.2" x2="1240.61" y2="689" stroke="#5a56b4" stroke-width="0.95" stroke-dasharray="4 8" stroke-dashoffset="20"/>
<line x1="1240.61" y1="1098.2" x2="1240.61" y2="1077.2" stroke="#625fb8" stroke-width="1.2"/>
<line x1="1240.61" y1="668" x2="1240.61" y2="689" stroke="#625fb8" stroke-width="1.2"/>
<line x1="1317.06" y1="1077.2" x2="1317.06" y2="689" stroke="#5a56b4" stroke-width="0.95" stroke-dasharray="4 8" stroke-dashoffset="20"/>
<line x1="1317.06" y1="1098.2" x2="1317.06" y2="1077.2" stroke="#625fb8" stroke-width="1.2"/>
<line x1="1317.06" y1="668" x2="1317.06" y2="689" stroke="#625fb8" stroke-width="1.2"/>
<line x1="726.5" y1="1012.16" x2="1372.5" y2="1012.16" stroke="#5a56b4" stroke-width="0.95" stroke-dasharray="4 8" stroke-dashoffset="30.4"/>
<line x1="705.5" y1="1012.16" x2="726.5" y2="1012.16" stroke="#625fb8" stroke-width="1.2"/>
<line x1="1372.5" y1="1012.16" x2="1393.5" y2="1012.16" stroke="#625fb8" stroke-width="1.2"/>
<line x1="726.5" y1="926.12" x2="1372.5" y2="926.12" stroke="#5a56b4" stroke-width="0.95" stroke-dasharray="4 8" stroke-dashoffset="30.4"/>
<line x1="705.5" y1="926.12" x2="726.5" y2="926.12" stroke="#625fb8" stroke-width="1.2"/>
<line x1="1372.5" y1="926.12" x2="1393.5" y2="926.12" stroke="#625fb8" stroke-width="1.2"/>
<line x1="726.5" y1="840.08" x2="1372.5" y2="840.08" stroke="#5a56b4" stroke-width="0.95" stroke-dasharray="4 8" stroke-dashoffset="30.4"/>
<line x1="705.5" y1="840.08" x2="726.5" y2="840.08" stroke="#625fb8" stroke-width="1.2"/>
<line x1="1372.5" y1="840.08" x2="1393.5" y2="840.08" stroke="#625fb8" stroke-width="1.2"/>
<line x1="726.5" y1="754.04" x2="1372.5" y2="754.04" stroke="#5a56b4" stroke-width="0.95" stroke-dasharray="4 8" stroke-dashoffset="30.4"/>
<line x1="705.5" y1="754.04" x2="726.5" y2="754.04" stroke="#625fb8" stroke-width="1.2"/>
<line x1="1372.5" y1="754.04" x2="1393.5" y2="754.04" stroke="#625fb8" stroke-width="1.2"/>
<rect x="705.5" y="668" width="688" height="430.2" fill="none" stroke="#625fb8" stroke-width="1.2"/>
<rect x="713.12" y="1031.52" width="15.3" height="66.68" fill="#ffffff" stroke="#4a4a4a" stroke-width="1"/>
<rect x="743.72" y="1096.91" width="15.3" height="1.29" fill="#3a2e95" stroke="#4a4a4a" stroke-width="1"/>
<rect x="759.02" y="735.54" width="15.3" height="362.66" fill="#121412" stroke="#4a4a4a" stroke-width="1"/>
<rect x="789.57" y="817.71" width="15.3" height="280.49" fill="#ffffff" stroke="#4a4a4a" stroke-width="1"/>
<rect x="820.17" y="1044.42" width="15.3" height="53.78" fill="#3a2e95" stroke="#4a4a4a" stroke-width="1"/>
<rect x="835.47" y="1002.7" width="15.3" height="95.5" fill="#121412" stroke="#4a4a4a" stroke-width="1"/>
<rect x="866.01" y="1008.72" width="15.3" height="89.48" fill="#ffffff" stroke="#4a4a4a" stroke-width="1"/>
<rect x="881.31" y="1092.18" width="15.3" height="6.02" fill="#b5b5b5" stroke="#4a4a4a" stroke-width="1"/>
<rect x="896.61" y="980.33" width="15.3" height="117.87" fill="#3a2e95" stroke="#4a4a4a" stroke-width="1"/>
<rect x="911.91" y="881.38" width="15.3" height="216.82" fill="#121412" stroke="#4a4a4a" stroke-width="1"/>
<rect x="942.46" y="804.37" width="15.3" height="293.83" fill="#ffffff" stroke="#4a4a4a" stroke-width="1"/>
<rect x="957.76" y="1093.9" width="15.3" height="4.3" fill="#b5b5b5" stroke="#4a4a4a" stroke-width="1"/>
<rect x="973.06" y="1092.01" width="15.3" height="6.19" fill="#3a2e95" stroke="#4a4a4a" stroke-width="1"/>
<rect x="988.36" y="976.02" width="15.3" height="122.18" fill="#121412" stroke="#4a4a4a" stroke-width="1"/>
<rect x="1018.9" y="748.62" width="15.3" height="349.58" fill="#ffffff" stroke="#4a4a4a" stroke-width="1"/>
<rect x="1049.5" y="1074.97" width="15.3" height="23.23" fill="#3a2e95" stroke="#4a4a4a" stroke-width="1"/>
<rect x="1064.8" y="1041.16" width="15.3" height="57.04" fill="#121412" stroke="#4a4a4a" stroke-width="1"/>
<rect x="1095.34" y="963.72" width="15.3" height="134.48" fill="#ffffff" stroke="#4a4a4a" stroke-width="1"/>
<rect x="1110.64" y="1086.8" width="15.3" height="11.4" fill="#b5b5b5" stroke="#4a4a4a" stroke-width="1"/>
<rect x="1125.94" y="1087.44" width="15.3" height="10.76" fill="#3a2e95" stroke="#4a4a4a" stroke-width="1"/>
<rect x="1141.24" y="829.33" width="15.3" height="268.88" fill="#121412" stroke="#4a4a4a" stroke-width="1"/>
<rect x="1171.79" y="693.38" width="15.3" height="404.82" fill="#ffffff" stroke="#4a4a4a" stroke-width="1"/>
<rect x="1202.39" y="1090.46" width="15.3" height="7.74" fill="#3a2e95" stroke="#4a4a4a" stroke-width="1"/>
<rect x="1217.69" y="1083.14" width="15.3" height="15.06" fill="#121412" stroke="#4a4a4a" stroke-width="1"/>
<rect x="1248.23" y="757.91" width="15.3" height="340.29" fill="#ffffff" stroke="#4a4a4a" stroke-width="1"/>
<rect x="1263.53" y="1064.64" width="15.3" height="33.56" fill="#b5b5b5" stroke="#4a4a4a" stroke-width="1"/>
<rect x="1278.83" y="1056.26" width="15.3" height="41.94" fill="#3a2e95" stroke="#4a4a4a" stroke-width="1"/>
<rect x="1294.13" y="1084" width="15.3" height="14.2" fill="#121412" stroke="#4a4a4a" stroke-width="1"/>
<rect x="1324.68" y="713.82" width="15.3" height="384.38" fill="#ffffff" stroke="#4a4a4a" stroke-width="1"/>
<rect x="1355.28" y="1087.44" width="15.3" height="10.76" fill="#3a2e95" stroke="#4a4a4a" stroke-width="1"/>
<rect x="1370.58" y="1063.1" width="15.3" height="35.1" fill="#121412" stroke="#4a4a4a" stroke-width="1"/>
<path d="M734.52 668L743.72 658.8L752.92 668L743.72 677.2Z" fill="#4440a6"/>
<path d="M810.97 668L820.17 658.8L829.37 668L820.17 677.2Z" fill="#4440a6"/>
<path d="M887.41 721.34L896.61 712.14L905.81 721.34L896.61 730.54Z" fill="#4440a6"/>
<path d="M963.86 689.94L973.06 680.74L982.26 689.94L973.06 699.14Z" fill="#4440a6"/>
<path d="M1040.3 668L1049.5 658.8L1058.7 668L1049.5 677.2Z" fill="#4440a6"/>
<path d="M1116.74 715.32L1125.94 706.12L1135.14 715.32L1125.94 724.52Z" fill="#4440a6"/>
<path d="M1193.19 668L1202.39 658.8L1211.59 668L1202.39 677.2Z" fill="#4440a6"/>
<path d="M1269.63 1012.16L1278.83 1002.96L1288.03 1012.16L1278.83 1021.36Z" fill="#4440a6"/>
<path d="M1346.08 668L1355.28 658.8L1364.48 668L1355.28 677.2Z" fill="#4440a6"/>
<text transform="translate(673.91 1113.18) scale(1.0130 1)" font-size="32.63" fill="#111111">0</text>
<text transform="translate(1407.86 1113.19) scale(1.0748 1)" font-size="31.92" fill="#111111">0</text>
<text transform="translate(648.25 1027.14) scale(0.9778 1)" font-size="32.63" fill="#111111">0.2</text>
<text transform="translate(1407.94 1027.15) scale(1.0067 1)" font-size="31.92" fill="#111111">0.2</text>
<text transform="translate(648.27 941.1) scale(0.9623 1)" font-size="32.63" fill="#111111">0.4</text>
<text transform="translate(1407.96 941.11) scale(0.9907 1)" font-size="31.92" fill="#111111">0.4</text>
<text transform="translate(648.26 855.06) scale(0.9731 1)" font-size="32.63" fill="#111111">0.6</text>
<text transform="translate(1407.95 855.07) scale(1.0018 1)" font-size="31.92" fill="#111111">0.6</text>
<text transform="translate(648.26 769.02) scale(0.9727 1)" font-size="32.63" fill="#111111">0.8</text>
<text transform="translate(1407.95 769.03) scale(1.0014 1)" font-size="31.92" fill="#111111">0.8</text>
<text transform="translate(672.88 683.3) scale(1.0638 1)" font-size="33.58" fill="#111111">1</text>
<text transform="translate(1407.25 683.3) scale(1.0591 1)" font-size="32.85" fill="#111111">1</text>
<text transform="translate(735.08 1134.9) scale(1.0234 1)" font-size="33.29" fill="#111111">1</text>
<text transform="translate(812.13 1134.9) scale(1.0234 1)" font-size="32.8" fill="#111111">2</text>
<text transform="translate(888.8 1134.58) scale(1.0234 1)" font-size="32.34" fill="#111111">3</text>
<text transform="translate(964.99 1134.9) scale(1.0234 1)" font-size="33.29" fill="#111111">4</text>
<text transform="translate(1041.49 1134.58) scale(1.0234 1)" font-size="32.82" fill="#111111">5</text>
<text transform="translate(1117.93 1134.58) scale(1.0234 1)" font-size="32.34" fill="#111111">6</text>
<text transform="translate(1194.2 1134.9) scale(1.0234 1)" font-size="33.29" fill="#111111">7</text>
<text transform="translate(1270.93 1134.58) scale(1.0234 1)" font-size="32.34" fill="#111111">8</text>
<text transform="translate(1347.38 1134.58) scale(1.0234 1)" font-size="32.34" fill="#111111">9</text>
<text transform="translate(997.34 1164) scale(1.0035 1)" font-size="32.12" fill="#111111">Sample</text>
<text transform="translate(630 940.32) rotate(-90) scale(0.9979 1)" font-size="33.28" fill="#111111">Fraction</text>
<text transform="translate(1469 869.34) rotate(90) scale(0.9729 1)" font-size="32.12" fill="#111111">D'</text>
<text transform="translate(602.19 689.22) scale(1.0413 1)" font-size="39.08" fill="#111111">d</text>
<rect x="730.5" y="1176.5" width="24" height="23.5" fill="#ffffff" stroke="#4a4a4a" stroke-width="1"/>
<rect x="730.5" y="1209.5" width="24" height="24.5" fill="#b5b5b5" stroke="#4a4a4a" stroke-width="1"/>
<rect x="1207.5" y="1177.5" width="24" height="23.5" fill="#3a2e95" stroke="#4a4a4a" stroke-width="1"/>
<rect x="1206.5" y="1209.5" width="24.5" height="24.5" fill="#121412" stroke="#4a4a4a" stroke-width="1"/>
<text transform="translate(804.13 1197.71) scale(0.9180 1)" font-size="29.66" fill="#111111">171N 295E</text>
<text transform="translate(804.1 1231.51) scale(0.9278 1)" font-size="29.66" fill="#b8b8b8">171N 295K</text>
<text transform="translate(1279.72 1197.22) scale(0.9453 1)" font-size="28.95" fill="#3d399f">171D 295E</text>
<text transform="translate(1279.69 1231.51) scale(0.9333 1)" font-size="29.66" fill="#111111">171D 295K</text>
<path d="M733.2 1272.2L742.5 1262.9L751.8 1272.2L742.5 1281.5Z" fill="#4440a6"/>
<text transform="translate(805.73 1283) scale(1.0720 1)" font-size="31.54" fill="#3d399f">D'</text>
</svg>
</body></html>
